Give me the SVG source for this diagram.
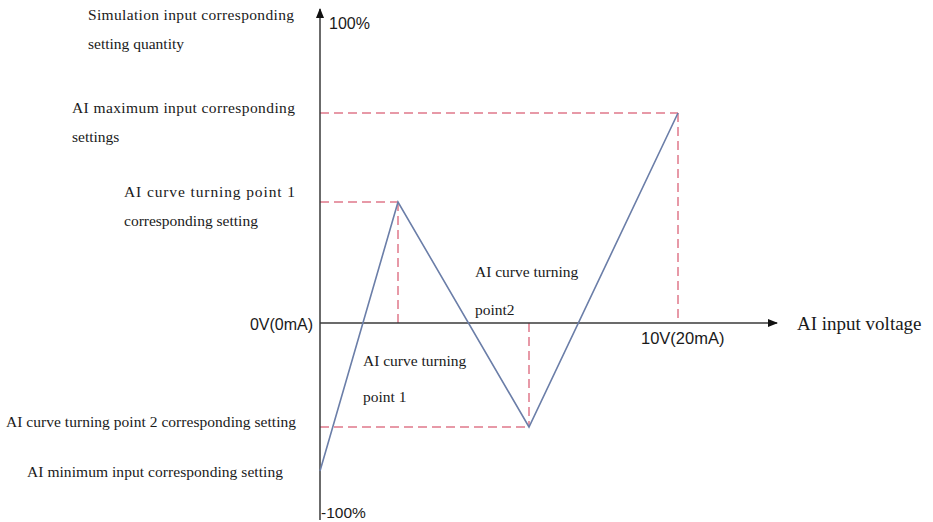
<svg xmlns="http://www.w3.org/2000/svg" width="933" height="522" viewBox="0 0 933 522">
<style>
.s{font-family:"Liberation Serif","Times New Roman",serif;font-size:15.5px;fill:#1a1a1a}
.a{font-family:"Liberation Sans",Arial,sans-serif;font-size:16px;fill:#1a1a1a}
.axis{stroke:#3a3a3a;stroke-width:1.5;fill:none}
.dash{stroke:#e0788a;stroke-width:1.5;stroke-dasharray:9 5;fill:none}
.curve{stroke:#6b7ea8;stroke-width:1.6;fill:none}
</style>
<defs>
<marker id="arr" markerWidth="10" markerHeight="8" refX="9" refY="4" orient="auto" markerUnits="userSpaceOnUse">
<path d="M0,0 L10,4 L0,8 z" fill="#111"/>
</marker>
</defs>
<g id="connectors">
<line class="dash" x1="320" y1="113" x2="678" y2="113"/>
<line class="dash" x1="678" y1="113" x2="678" y2="323"/>
<line class="dash" x1="320" y1="202" x2="398" y2="202"/>
<line class="dash" x1="398" y1="202" x2="398" y2="323"/>
<line class="dash" x1="320" y1="427" x2="529" y2="427"/>
<line class="dash" x1="529" y1="323" x2="529" y2="427"/>
<line class="axis" x1="320" y1="520" x2="320" y2="9" marker-end="url(#arr)"/>
<line class="axis" x1="320" y1="323" x2="777" y2="323" marker-end="url(#arr)"/>
<polyline class="curve" points="320,471 398,202 529,427 678,113"/>
</g>
<g id="label-100"><text class="a" x="329" y="29">100%</text></g>
<g id="label-m100"><text class="a" x="321" y="518" style="font-size:15.5px">-100%</text></g>
<g id="label-0v"><text class="a" x="313" y="330" text-anchor="end">0V(0mA)</text></g>
<g id="label-10v"><text class="a" x="641" y="344" style="font-size:16.5px">10V(20mA)</text></g>
<g id="label-xaxis"><text class="s" x="797" y="330" style="font-size:19px">AI input voltage</text></g>
<g id="label-sim">
<text class="s" x="88" y="20" textLength="206" lengthAdjust="spacing">Simulation input corresponding</text>
<text class="s" x="88" y="49">setting quantity</text>
</g>
<g id="label-max">
<text class="s" x="72" y="113" textLength="223" lengthAdjust="spacing">AI maximum input corresponding</text>
<text class="s" x="72" y="142">settings</text>
</g>
<g id="label-tp1set">
<text class="s" x="124" y="197" textLength="171" lengthAdjust="spacing">AI curve turning point 1</text>
<text class="s" x="124" y="226">corresponding setting</text>
</g>
<g id="label-tp2set"><text class="s" x="6" y="427" textLength="290" lengthAdjust="spacing">AI curve turning point 2 corresponding setting</text></g>
<g id="label-min"><text class="s" x="27" y="477" textLength="256" lengthAdjust="spacing">AI minimum input corresponding setting</text></g>
<g id="label-tp1">
<text class="s" x="363" y="366">AI curve turning</text>
<text class="s" x="363" y="402">point 1</text>
</g>
<g id="label-tp2">
<text class="s" x="475" y="277">AI curve turning</text>
<text class="s" x="475" y="315">point2</text>
</g>
</svg>
